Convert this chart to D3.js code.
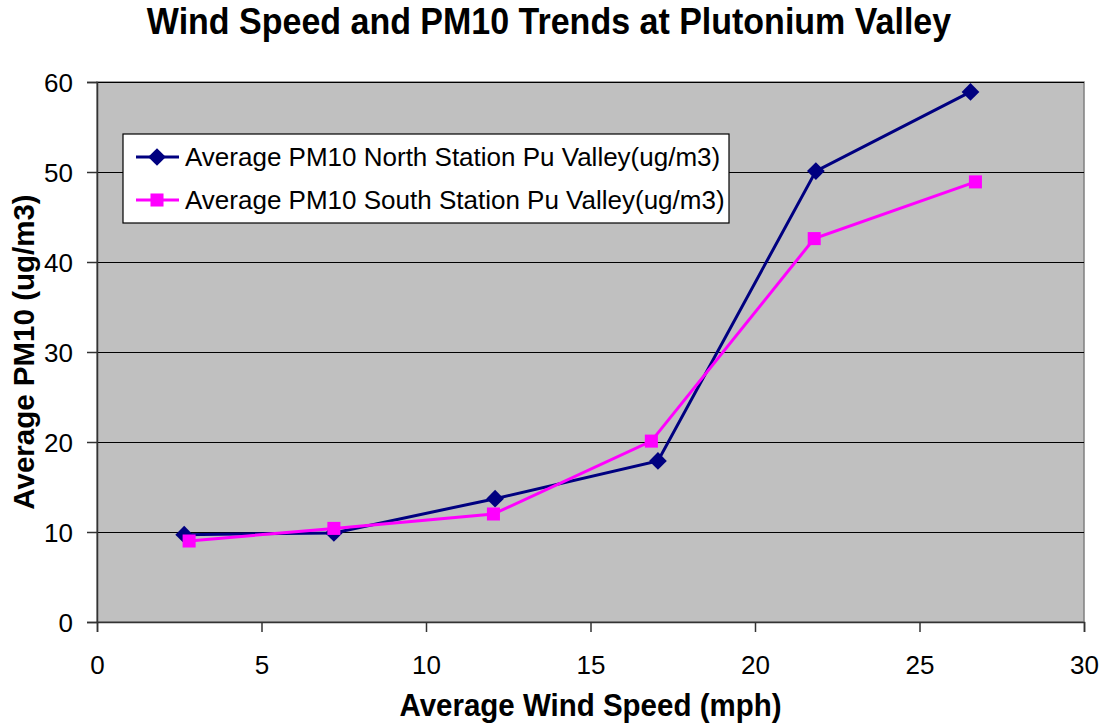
<!DOCTYPE html>
<meta charset="utf-8">
<style>
body { margin: 0; background: #fff; }
svg { font-family: "Liberation Sans", Arial, sans-serif; }
.title { font-size: 34px; font-weight: bold; text-anchor: middle; }
.axis-title { font-size: 29.5px; font-weight: bold; text-anchor: middle; }
.tick text { font-size: 26px; fill: #000; }
.legend text { font-size: 26px; }
</style>
<svg></svg>
<script src="https://d3js.org/d3.v7.min.js"></script>
<script>

var windNorth = [2.65, 7.2, 12.1, 17.05, 21.85, 26.55];
var pmNorth = [9.7, 9.9, 13.7, 17.9, 50.1, 58.9];
var windSouth = [2.8, 7.2, 12.05, 16.85, 21.8, 26.7];
var pmSouth = [9.0, 10.4, 12.0, 20.1, 42.6, 48.9];
var seriesNames = [
  'Average PM10 North Station Pu Valley(ug/m3)',
  'Average PM10 South Station Pu Valley(ug/m3)'
];
var xTicks = [0, 5, 10, 15, 20, 25, 30];
var yTicks = [0, 10, 20, 30, 40, 50, 60];

var width = 1102, height = 725;
var plot = { left: 97, right: 1084, top: 82, bottom: 622 };

var svg = d3.select('svg')
  .attr('width', width)
  .attr('height', height);

var x = d3.scaleLinear().domain([0, 30]).range([plot.left, plot.right]);
var y = d3.scaleLinear().domain([0, 60]).range([plot.bottom, plot.top]);

// title, a bit stretched vertically like the original
svg.append('text')
  .attr('class', 'title')
  .attr('transform', 'translate(549,34) scale(1,1.08)')
  .text('Wind Speed and PM10 Trends at Plutonium Valley');

// plot background with grey border
svg.append('rect')
  .attr('x', plot.left)
  .attr('y', plot.top)
  .attr('width', plot.right - plot.left)
  .attr('height', plot.bottom - plot.top)
  .attr('fill', '#c0c0c0')
  .attr('stroke', '#808080')
  .attr('stroke-width', 1.5);

// gridlines
svg.append('g')
  .attr('shape-rendering', 'crispEdges')
  .selectAll('line')
  .data(yTicks.filter(function (d) { return d > 0; }))
  .enter().append('line')
  .attr('x1', plot.left)
  .attr('x2', plot.right)
  .attr('y1', function (d) { return y(d); })
  .attr('y2', function (d) { return y(d); })
  .attr('stroke', '#000')
  .attr('stroke-width', 1);

var xAxis = svg.append('g')
  .attr('transform', 'translate(0,' + plot.bottom + ')')
  .call(d3.axisBottom(x).tickValues(xTicks).tickSize(10).tickPadding(24));

var yAxis = svg.append('g')
  .attr('transform', 'translate(' + plot.left + ',0)')
  .call(d3.axisLeft(y).tickValues(yTicks).tickSize(10).tickPadding(14));

svg.selectAll('.domain').attr('stroke', '#333').attr('stroke-width', 1.5);
svg.selectAll('.tick line').attr('stroke', '#333').attr('stroke-width', 1.5);
svg.selectAll('.tick text').attr('font-family', null).attr('font-size', null);
yAxis.selectAll('.tick text').attr('dy', '0.36em');

svg.append('text')
  .attr('class', 'axis-title')
  .attr('transform', 'translate(' + (plot.left + plot.right) / 2 + ',716) scale(1,1.05)')
  .text('Average Wind Speed (mph)');

svg.append('text')
  .attr('class', 'axis-title')
  .attr('transform', 'translate(34,' + (plot.top + plot.bottom) / 2 + ') rotate(-90)')
  .text('Average PM10 (ug/m3)');

var line = d3.line()
  .x(function (d) { return x(d[0]); })
  .y(function (d) { return y(d[1]); });

var north = d3.zip(windNorth, pmNorth);
var south = d3.zip(windSouth, pmSouth);

var diamond = d3.symbol().type(d3.symbolDiamond2).size(200);
var square = d3.symbol().type(d3.symbolSquare).size(170);

svg.append('path')
  .datum(north)
  .attr('d', line)
  .attr('fill', 'none')
  .attr('stroke', '#000080')
  .attr('stroke-width', 3);

svg.append('path')
  .datum(south)
  .attr('d', line)
  .attr('fill', 'none')
  .attr('stroke', '#ff00ff')
  .attr('stroke-width', 3);

svg.append('g')
  .selectAll('path')
  .data(north)
  .enter().append('path')
  .attr('d', diamond)
  .attr('transform', function (d) { return 'translate(' + x(d[0]) + ',' + y(d[1]) + ')'; })
  .attr('fill', '#000080');

svg.append('g')
  .selectAll('path')
  .data(south)
  .enter().append('path')
  .attr('d', square)
  .attr('transform', function (d) { return 'translate(' + x(d[0]) + ',' + y(d[1]) + ')'; })
  .attr('fill', '#ff00ff');

// legend
var legend = svg.append('g').attr('class', 'legend');
legend.append('rect')
  .attr('x', 123)
  .attr('y', 134)
  .attr('width', 606)
  .attr('height', 89)
  .attr('fill', '#fff')
  .attr('stroke', '#000')
  .attr('stroke-width', 1.2);

var legendItems = [
  { name: seriesNames[0], color: '#000080', sym: diamond },
  { name: seriesNames[1], color: '#ff00ff', sym: square }
];

var item = legend.selectAll('.item')
  .data(legendItems)
  .enter().append('g')
  .attr('transform', function (d, i) { return 'translate(0,' + (157 + i * 43) + ')'; });

item.append('line')
  .attr('x1', 136)
  .attr('x2', 179)
  .attr('stroke', function (d) { return d.color; })
  .attr('stroke-width', 3);

item.append('path')
  .attr('d', function (d) { return d.sym(); })
  .attr('transform', 'translate(157,0)')
  .attr('fill', function (d) { return d.color; });

item.append('text')
  .attr('x', 185)
  .attr('dy', '0.36em')
  .text(function (d) { return d.name; });

</script>
